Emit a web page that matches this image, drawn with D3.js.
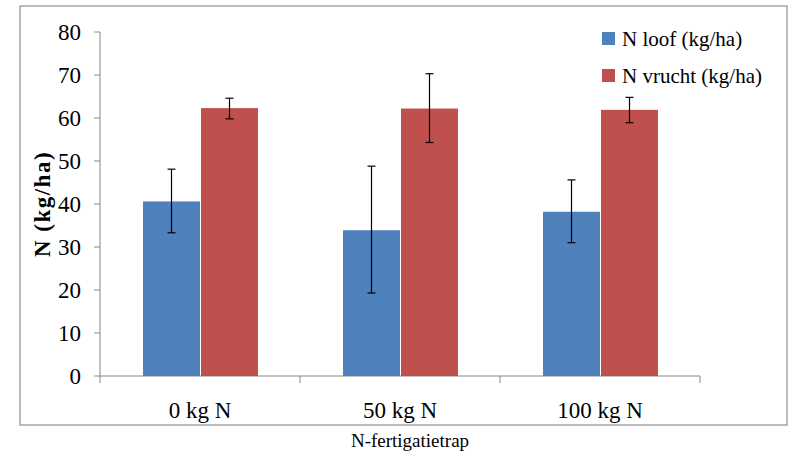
<!DOCTYPE html><html><head><script src="https://d3js.org/d3.v7.min.js"></script>
<style>body{margin:0;background:#fff}</style></head><body><svg width="801" height="457"></svg><script>
const categories=["0 kg N","50 kg N","100 kg N"];
const seriesNames=["N loof (kg/ha)","N vrucht (kg/ha)"];
const loof=[40.6,33.9,38.2];
const loofLo=[33.3,19.3,31.0];
const loofHi=[48.1,48.8,45.6];
const vrucht=[62.3,62.2,61.9];
const vruchtLo=[59.8,54.3,58.9];
const vruchtHi=[64.6,70.3,64.8];
const yTicks=[0,10,20,30,40,50,60,70,80];
const colors=["#4f81bd","#c0504d"];
const FF="'Liberation Serif', 'DejaVu Serif', serif";
const svg=d3.select("svg");
svg.append("rect").attr("x",20).attr("y",6).attr("width",767).attr("height",419).attr("fill","none").attr("stroke","#999").attr("stroke-width",1.3);
const x=d3.scaleBand().domain(categories).range([100,700]);
const y=d3.scaleLinear().domain([0,80]).range([376,32]);
const g=svg.append("g");
const T=()=>g.append("text").style("font-family",FF);
g.append("line").attr("x1",100).attr("x2",100).attr("y1",32).attr("y2",376).attr("stroke","#888");
yTicks.forEach(t=>{g.append("line").attr("x1",94).attr("x2",100).attr("y1",y(t)).attr("y2",y(t)).attr("stroke","#888");
T().attr("x",81).attr("y",y(t)+8).attr("text-anchor","end").attr("font-size",23).text(t);});
g.append("line").attr("x1",100).attr("x2",700).attr("y1",376).attr("y2",376).attr("stroke","#888").attr("stroke-width",1.2);
[0,1,2,3].forEach(i=>g.append("line").attr("x1",100+i*200).attr("x2",100+i*200).attr("y1",376).attr("y2",383).attr("stroke","#888"));
categories.forEach(c=>T().attr("x",x(c)+x.bandwidth()/2).attr("y",418).attr("text-anchor","middle").attr("font-size",23).text(c));
const data=[[loof,loofLo,loofHi],[vrucht,vruchtLo,vruchtHi]];
const bw=57;
data.forEach((s,si)=>{categories.forEach((c,i)=>{const cx=x(c)+x.bandwidth()/2;const bx=si==0?cx-bw:cx+1;
g.append("rect").attr("x",bx).attr("y",y(s[0][i])).attr("width",bw).attr("height",y(0)-y(s[0][i])).attr("fill",colors[si]);
const ex=bx+bw/2;
g.append("line").attr("x1",ex).attr("x2",ex).attr("y1",y(s[1][i])).attr("y2",y(s[2][i])).attr("stroke","#000").attr("stroke-width",1.2);
[s[1][i],s[2][i]].forEach(v=>g.append("line").attr("x1",ex-4).attr("x2",ex+4).attr("y1",y(v)).attr("y2",y(v)).attr("stroke","#000").attr("stroke-width",1.2));});});
T().attr("transform","translate(50,204) rotate(-90)").attr("text-anchor","middle").attr("font-size",23).attr("font-weight","bold").attr("letter-spacing",1.5).text("N (kg/ha)");
T().attr("x",410).attr("y",447).attr("text-anchor","middle").attr("font-size",19).text("N-fertigatietrap");
seriesNames.forEach((n,i)=>{g.append("rect").attr("x",602).attr("y",32+i*37).attr("width",13).attr("height",13).attr("fill",colors[i]);
T().attr("x",622).attr("y",46+i*37).attr("font-size",21).text(n);});
</script></body></html>
